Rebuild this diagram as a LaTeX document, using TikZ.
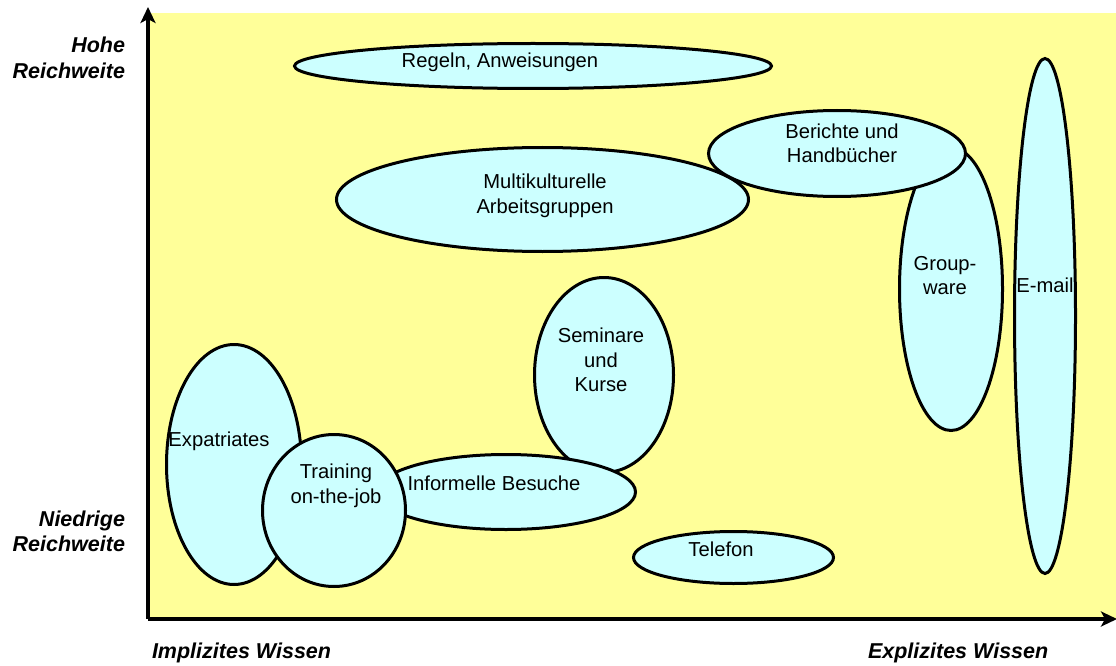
\documentclass[tikz,border=0pt]{standalone}
\usepackage{fontspec}
\setmainfont{Liberation Sans}
\usetikzlibrary{shapes.geometric,arrows.meta}
\definecolor{bgyellow}{HTML}{FFFF99}
\definecolor{bubble}{HTML}{CCFFFF}
\begin{document}
\begin{tikzpicture}[x=1pt,y=-1pt,
  bub/.style={ellipse,draw=black,line width=3pt,fill=bubble,inner sep=0pt,outer sep=0pt},
  lbl/.style={inner sep=0pt,outer sep=0pt,align=center,font=\fontsize{20.2}{24.5}\selectfont},
  axlbl/.style={inner sep=0pt,outer sep=0pt,font=\fontsize{21.5}{25.5}\selectfont\bfseries\itshape},
  axis/.style={line width=3.2pt,-{Stealth[length=16pt,width=15pt,inset=4pt]}}]
\useasboundingbox (0,0) rectangle (1116,666);
\fill[bgyellow] (148,13) rectangle (1116,619);
% bubbles
\node[bub,minimum width=477pt,minimum height=45pt] (regeln) at (533,66) {};
\node[bub,minimum width=412pt,minimum height=104pt] (multi) at (542.5,199.5) {};
\node[bub,minimum width=103pt,minimum height=283pt] (group) at (951,289) {};
\node[bub,minimum width=257pt,minimum height=86pt] (berichte) at (837,153.5) {};
\node[bub,minimum width=61pt,minimum height=515pt] (email) at (1045,316) {};
\node[bub,minimum width=139pt,minimum height=195pt] (seminare) at (604,375) {};
\node[bub,minimum width=135pt,minimum height=240pt] (expat) at (234,464.5) {};
\node[bub,minimum width=259pt,minimum height=75pt] (informelle) at (506,492) {};
\node[bub,minimum width=143pt,minimum height=152pt] (training) at (334,510.5) {};
\node[bub,minimum width=200pt,minimum height=52pt] (telefon) at (733.5,557.5) {};
% texts
\node[lbl,anchor=base] (tregeln) at (500,68) {Regeln, Anweisungen};
\node[lbl] (tberichte) at (842,143.4) {Berichte und\\Handbücher};
\node[lbl] (tmulti) at (545,195.9) {Multikulturelle\\Arbeitsgruppen};
\node[lbl] (tgroup) at (945,275.4) {Group-\\ware};
\node[lbl,anchor=base] (temail) at (1045,292) {E-mail};
\node[lbl] (tseminare) at (601,359.9) {Seminare\\und\\Kurse};
\node[lbl,anchor=base] (texpat) at (219,446) {Expatriates};
\node[lbl] (ttraining) at (336,485.9) {Training\\on-the-job};
\node[lbl,anchor=base] (tinformelle) at (494,490) {Informelle Besuche};
\node[lbl,anchor=base] (ttelefon) at (721,556) {Telefon};
% axes
\coordinate (origin) at (148,619);
\coordinate (ytop) at (148,7);
\coordinate (xend) at (1117,619);
\draw[axis] (origin) -- (ytop);
\draw[axis] (origin) -- (xend);
% axis labels
\node[axlbl,anchor=east,align=right] (hohe) at (125,57.8) {Hohe\\Reichweite};
\node[axlbl,anchor=east,align=right] (niedrig) at (125,531.3) {Niedrige\\Reichweite};
\node[axlbl,anchor=base west] (impl) at (152,658) {Implizites Wissen};
\node[axlbl,anchor=base west] (expl) at (868,658) {Explizites Wissen};
\end{tikzpicture}
\end{document}
